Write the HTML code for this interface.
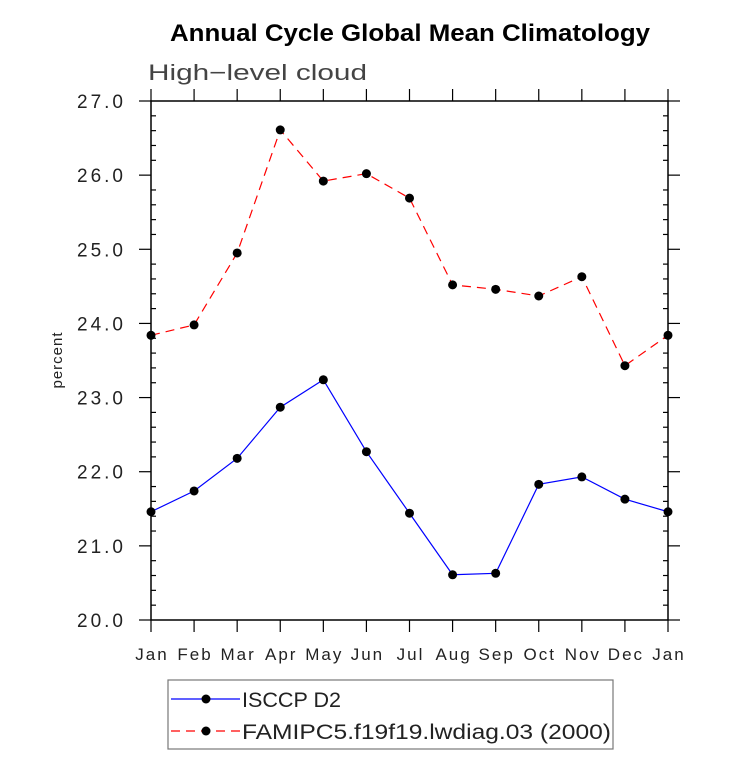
<!DOCTYPE html>
<html><head><meta charset="utf-8"><style>
body{margin:0;background:#fff;width:733px;height:770px;overflow:hidden}
svg{display:block}
text{font-family:"Liberation Sans","DejaVu Sans",sans-serif;fill:#222}
</style></head><body>
<svg id="chart" width="733" height="770" xmlns="http://www.w3.org/2000/svg">
<text x="170" y="41" font-size="24" font-weight="bold" textLength="480" lengthAdjust="spacingAndGlyphs" style="fill:#000">Annual Cycle Global Mean Climatology</text>
<text x="148" y="80" font-size="22" textLength="219" lengthAdjust="spacingAndGlyphs" style="fill:#444">High−level cloud</text>
<text transform="translate(62,360) rotate(-90)" text-anchor="middle" font-size="15" letter-spacing="1">percent</text>
<g id="axes"></g>
<g id="series"></g>
<g>
<rect x="168" y="680" width="445" height="69" fill="none" stroke="#777" stroke-width="1.2"/>
<line x1="171" y1="699" x2="240" y2="699" stroke="#0000ff" stroke-width="1.2"/>
<circle cx="206" cy="699" r="4.5" fill="#000"/>
<text x="242" y="707" font-size="21" textLength="99" lengthAdjust="spacingAndGlyphs">ISCCP D2</text>
<line x1="171" y1="731" x2="240" y2="731" stroke="#ff0000" stroke-width="1.2" stroke-dasharray="9,6"/>
<circle cx="206" cy="731" r="4.5" fill="#000"/>
<text x="242" y="739" font-size="21" textLength="369" lengthAdjust="spacingAndGlyphs">FAMIPC5.f19f19.lwdiag.03 (2000)</text>
</g>
</svg>
<script>
const months=["Jan","Feb","Mar","Apr","May","Jun","Jul","Aug","Sep","Oct","Nov","Dec","Jan"];
const isccp=[21.46,21.74,22.18,22.87,23.24,22.27,21.44,20.61,20.63,21.83,21.93,21.63,21.46];
const famipc5=[23.84,23.98,24.95,26.61,25.92,26.02,25.69,24.52,24.46,24.37,24.63,23.43,23.84];
const yTicks=[20,21,22,23,24,25,26,27];
const L=151,R=668,T=101,B=620,ymin=20,ymax=27;
const NS="http://www.w3.org/2000/svg";
function xs(i){return L+(R-L)*i/(months.length-1);}
function ys(v){return B-(v-ymin)/(ymax-ymin)*(B-T);}
function mk(tag,attrs,parent){const e=document.createElementNS(NS,tag);for(const k in attrs)e.setAttribute(k,attrs[k]);parent.appendChild(e);return e;}
const ax=document.getElementById('axes');
const frame=mk('rect',{x:L,y:T,width:R-L,height:B-T,fill:'none',stroke:'#000','stroke-width':1.5},ax);


const tk={stroke:'#000','stroke-width':1.2};
months.forEach((m,i)=>{
  const x=xs(i);
  mk('line',Object.assign({x1:x,y1:B,x2:x,y2:B+12},tk),ax);
  mk('line',Object.assign({x1:x,y1:T,x2:x,y2:T-12},tk),ax);
  const t=mk('text',{x:x+1,y:660,'text-anchor':'middle','font-size':17,'letter-spacing':2},ax);
  t.textContent=m;
  
  
});
yTicks.forEach((v,i)=>{
  const y=ys(v);
  mk('line',Object.assign({x1:L,y1:y,x2:L-12,y2:y},tk),ax);
  mk('line',Object.assign({x1:R,y1:y,x2:R+12,y2:y},tk),ax);
  const t=mk('text',{x:126,y:y+7,'text-anchor':'end','font-size':19,'letter-spacing':3},ax);
  t.textContent=v.toFixed(1);
  
  
  if(i<yTicks.length-1){for(let k=1;k<5;k++){const yy=ys(v+k*0.2);
    mk('line',Object.assign({x1:L,y1:yy,x2:L+5,y2:yy},tk),ax);
    mk('line',Object.assign({x1:R,y1:yy,x2:R-5,y2:yy},tk),ax);}}
});
const sg=document.getElementById('series');
function drawSeries(vals,color,dash,name){
  const pts=vals.map((v,i)=>xs(i)+','+ys(v)).join(' ');
  const pl=mk('polyline',{points:pts,fill:'none',stroke:color,'stroke-width':1.2,'stroke-dasharray':dash},sg);
  
  
  vals.forEach((v,i)=>{
    const c=mk('circle',{cx:xs(i),cy:ys(v),r:4.5,fill:'#000'},sg);
    
    
  });
}
drawSeries(famipc5,'#ff0000','9,6','famipc5');
drawSeries(isccp,'#0000ff','none','isccp');
</script>
</body></html>
